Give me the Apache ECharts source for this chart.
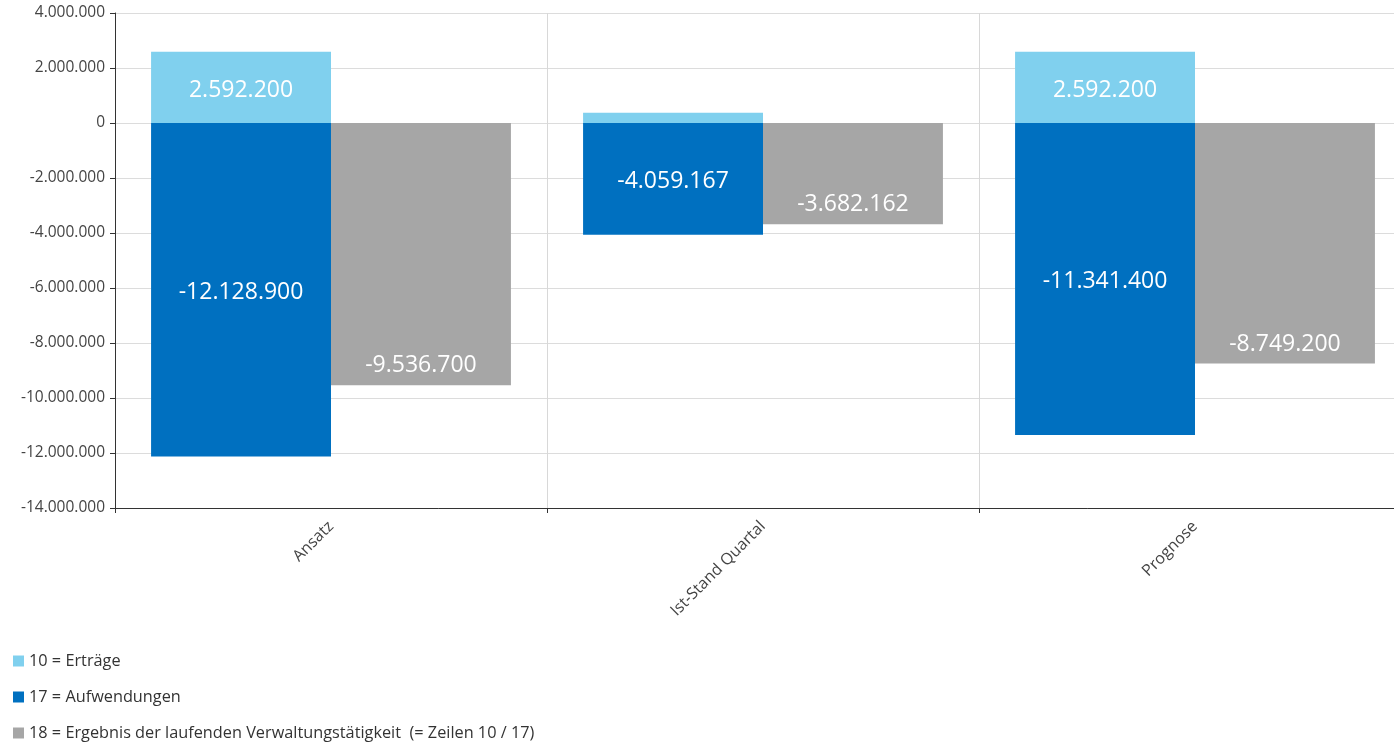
<!DOCTYPE html>
<html><head><meta charset="utf-8">
<script src="https://cdn.jsdelivr.net/npm/echarts@6/dist/echarts.min.js"></script>
<style>html,body{margin:0;padding:0;background:#fff;overflow:hidden}#c{width:1411px;height:745px}</style>
</head><body><div id="c"></div>
<script>
const categories = ['Ansatz', 'Ist-Stand Quartal', 'Prognose'];
const ertraege = [2592200, 377005, 2592200];
const aufwendungen = [-12128900, -4059167, -11341400];
const ergebnis = [-9536700, -3682162, -8749200];
const seriesNames = ['10 = Erträge', '17 = Aufwendungen', '18 = Ergebnis der laufenden Verwaltungstätigkeit  (= Zeilen 10 / 17)'];
const yMin = -14000000, yMax = 4000000, yStep = 2000000;

function fmt(v) {
  const neg = v < 0;
  let s = String(Math.round(Math.abs(v)));
  s = s.replace(/\B(?=(\d{3})+(?!\d))/g, '.');
  return (neg ? '-' : '') + s;
}
const FONT = '"Open Sans", sans-serif';
const labelBase = { show: true, color: '#fff', fontSize: 23, fontFamily: FONT,
  formatter: p => Math.abs(p.value) < 1000000 ? '' : fmt(p.value) };

const chart = echarts.init(document.getElementById('c'), null, { renderer: 'canvas' });
chart.setOption({
  animation: false,
  textStyle: { fontFamily: FONT },
  grid: { left: 115, top: 13, bottom: 237, right: 0, containLabel: false },
  legend: {
    orient: 'vertical', left: 13, top: 653, height: 100, padding: 0,
    itemWidth: 11, itemHeight: 11, itemGap: 20,
    icon: 'rect', textStyle: { fontSize: 16.3, color: '#333', fontFamily: FONT },
    data: seriesNames
  },
  xAxis: {
    type: 'category', data: categories,
    axisLine: { onZero: false, lineStyle: { color: '#333', width: 1 } },
    axisTick: { show: true, length: 5, lineStyle: { color: '#333' } },
    splitLine: { show: true, lineStyle: { color: '#d8d8d8' } },
    axisLabel: { rotate: 45, fontSize: 16, color: '#444', margin: 16, fontFamily: FONT }
  },
  yAxis: {
    type: 'value', min: yMin, max: yMax, interval: yStep,
    axisLine: { show: true, lineStyle: { color: '#333' } },
    axisTick: { show: true, length: 5, lineStyle: { color: '#333' } },
    splitLine: { lineStyle: { color: '#dcdcdc' } },
    axisLabel: { fontSize: 15.5, color: '#444', margin: 10, fontFamily: FONT, formatter: v => fmt(v) }
  },
  series: [
    { name: seriesNames[0], type: 'bar', stack: 'a', data: ertraege, barGap: '0%', barCategoryGap: '16.7%',
      itemStyle: { color: '#80D0EE' }, label: Object.assign({}, labelBase, { position: 'inside', offset: [0, 3] }) },
    { name: seriesNames[1], type: 'bar', stack: 'a', data: aufwendungen,
      itemStyle: { color: '#0070C0' }, label: Object.assign({}, labelBase, { position: 'inside', offset: [0, 3] }) },
    { name: seriesNames[2], type: 'bar', stack: 'b', data: ergebnis,
      itemStyle: { color: '#A6A6A6' }, label: Object.assign({}, labelBase, { position: 'insideBottom', distance: 8 }) }
  ]
});
</script></body></html>
